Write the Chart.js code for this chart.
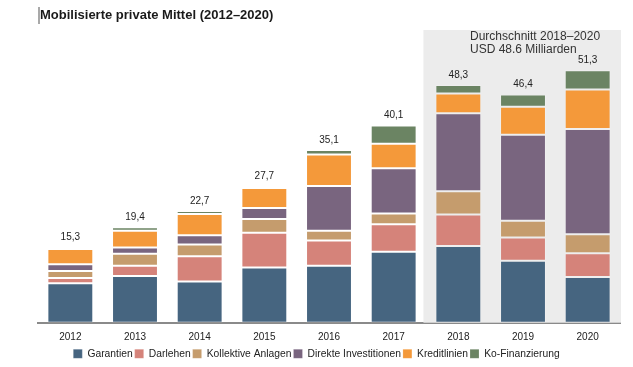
<!DOCTYPE html>
<html>
<head>
<meta charset="utf-8">
<script src="https://cdn.jsdelivr.net/npm/chart.js@4"></script>
<style>
  html, body { margin: 0; padding: 0; background: #fff; }
  #wrap { width: 633px; height: 367px; position: relative; }
</style>
</head>
<body>
<div id="wrap"><canvas id="chart" width="633" height="367"></canvas></div>
<script>
const years = ['2012', '2013', '2014', '2015', '2016', '2017', '2018', '2019', '2020'];

// Mrd. USD
const garantien   = [8.0, 9.5, 8.4, 11.2, 11.6, 14.4, 15.6, 12.6, 9.3];
const darlehen    = [1.1, 2.1, 5.1, 7.1, 5.1, 5.6, 6.4, 4.7, 4.8];
const kollektive  = [1.4, 2.4, 2.4, 2.8, 2.0, 2.2, 4.7, 3.4, 3.9];
const direkte     = [1.4, 1.3, 1.9, 2.2, 9.1, 9.2, 15.9, 17.5, 21.4];
const kredit      = [3.1, 3.4, 4.3, 4.1, 6.4, 5.0, 4.0, 5.7, 8.0];
const kofinanz    = [0.3, 0.7, 0.6, 0.3, 0.9, 3.7, 1.7, 2.5, 3.9];
const totals      = [15.3, 19.4, 22.7, 27.7, 35.1, 40.1, 48.3, 46.4, 51.3];

const titleText = 'Mobilisierte private Mittel (2012–2020)';
const noteLines = ['Durchschnitt 2018–2020', 'USD 48.6 Milliarden'];
const shadedFrom = '2018';

const font = '"Liberation Sans", Arial, sans-serif';

function ds(label, data, color) {
    return {
        label: label,
        data: data,
        backgroundColor: color,
        borderColor: 'rgba(255,255,255,0.18)',
        borderWidth: 1,
        borderSkipped: false
    };
}

// gray box, title, note and totals
const extras = {
    id: 'extras',
    afterLayout(chart) {
        // pull the legend a bit closer to the year labels
        const l = chart.legend;
        l.top -= 6;
        l.bottom -= 6;
    },
    beforeDatasetsDraw(chart) {
        const ctx = chart.ctx;
        const x = chart.scales.x;
        const area = chart.chartArea;
        const i = years.indexOf(shadedFrom);
        const step = x.getPixelForValue(1) - x.getPixelForValue(0);
        const left = x.getPixelForValue(i) - step * 0.54;
        ctx.save();
        ctx.fillStyle = '#ececec';
        ctx.fillRect(left, area.top, area.right - left + 1, area.bottom - area.top);
        ctx.fillStyle = '#333';
        ctx.font = '12px ' + font;
        ctx.textBaseline = 'middle';
        ctx.textAlign = 'left';
        ctx.fillText(noteLines[0], 470, 37);
        ctx.fillText(noteLines[1], 470, 49.5);
        ctx.restore();
    },
    afterDatasetsDraw(chart) {
        const ctx = chart.ctx;
        const x = chart.scales.x;
        const y = chart.scales.y;
        ctx.save();
        ctx.fillStyle = '#222';
        ctx.font = '10px ' + font;
        ctx.textAlign = 'center';
        ctx.textBaseline = 'middle';
        totals.forEach((t, i) => {
            ctx.fillText(t.toFixed(1).replace('.', ','), x.getPixelForValue(i), y.getPixelForValue(t) - 10);
        });
        // title
        ctx.font = 'bold 13px ' + font;
        ctx.textAlign = 'left';
        ctx.fillStyle = '#1a1a1a';
        ctx.fillText(titleText, 40, 15);
        ctx.fillStyle = '#555';
        ctx.fillRect(38.5, 7, 1, 17);
        ctx.restore();
    }
};

const ctx = document.getElementById('chart').getContext('2d');
const chart = new Chart(ctx, {
    type: 'bar',
    data: {
        labels: years,
        datasets: [
            ds('Garantien', garantien, '#466580'),
            ds('Darlehen', darlehen, '#d5837a'),
            ds('Kollektive Anlagen', kollektive, '#c59c6d'),
            ds('Direkte Investitionen', direkte, '#79657f'),
            ds('Kreditlinien', kredit, '#f4993a'),
            ds('Ko-Finanzierung', kofinanz, '#6b8463')
        ]
    },
    options: {
        responsive: false,
        animation: false,
        layout: {
            padding: { left: 13, right: 13, top: 30, bottom: -8 }
        },
        datasets: {
            bar: { categoryPercentage: 1, barPercentage: 0.71 }
        },
        scales: {
            x: {
                stacked: true,
                grid: { display: false, drawTicks: false },
                border: { display: true, color: '#8a8a8a', width: 2 },
                ticks: { color: '#222', font: { family: font, size: 10 }, padding: 9 }
            },
            y: {
                stacked: true,
                min: 0,
                max: 59.5,
                grid: { display: false, drawTicks: false },
                border: { display: false },
                ticks: { display: false },
                afterFit(scale) { scale.width = 25; }
            }
        },
        plugins: {
            legend: {
                position: 'bottom',
                labels: {
                    color: '#222',
                    font: { family: font, size: 10.3 },
                    boxWidth: 9,
                    boxHeight: 9,
                    padding: 2
                }
            },
            tooltip: { enabled: false }
        }
    },
    plugins: [extras]
});
</script>
</body>
</html>
